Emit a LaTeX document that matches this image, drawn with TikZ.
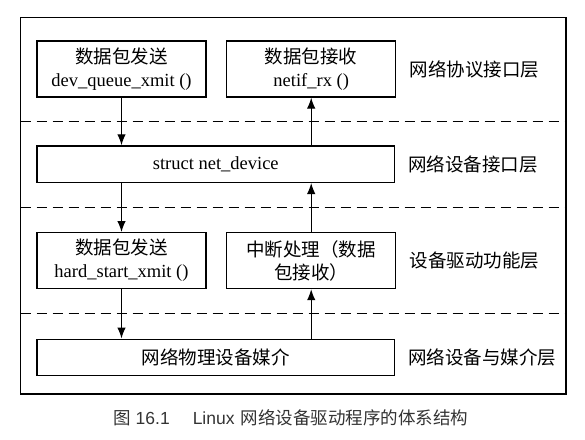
\documentclass[tikz,border=0pt]{standalone}
\usepackage{fontspec}
\setmainfont{Liberation Serif}
\newfontfamily\cjk{Noto Sans CJK SC}
\newfontfamily\capsans{Liberation Sans}
\usetikzlibrary{
        arrows.meta,
        calc,
        positioning
    }
\newcommand\boxfont{\fontsize{18.5}{23}\selectfont}
\tikzset{>={Latex[length=11pt,width=8.5pt]},node distance=2cm}
\tikzset{
    box/.style={draw,line width=1.2pt,minimum width=169pt,minimum height=56pt,
        inner sep=0pt,align=center,font=\boxfont},
    widebox/.style={box,minimum width=357.5pt,minimum height=36.5pt},
    layer/.style={inner sep=0pt,font=\boxfont\cjk},
    sep/.style={line width=1.2pt,dash pattern=on 10pt off 6pt},
    flow/.style={->,line width=1.2pt}
}

\begin{document}
\begin{tikzpicture}[x=1pt,y=-1pt]
    \useasboundingbox (0,0) rectangle (585,439);
    \coordinate (fnw) at (20.5,17.5);
    \coordinate (fse) at (566,394);
    \draw[line width=1.2pt] (fnw) rectangle (fse);

    \node[box] (sendq) at (121.5,69) {{\cjk 数据包发送}\\dev\_queue\_xmit ()};
    \node[box] (recv) [right=19.5pt of sendq] {{\cjk 数据包接收}\\netif\_rx ()};
    \node[widebox] (netdev) [below=47.7pt of sendq.south west,anchor=north west] {struct net\_device};
    \node[box] (sendh) [below=49pt of netdev.south west,anchor=north west] {{\cjk 数据包发送}\\hard\_start\_xmit ()};
    \node[box] (irq) [right=19.5pt of sendh] {{\cjk 中断处理（数据}\\{\cjk 包接收）}};
    \node[widebox] (media) [below=49.3pt of sendh.south west,anchor=north west] {\cjk 网络物理设备媒介};

    \node[layer] (proto) [right=13pt of recv] {网络协议接口层};
    \node[layer] (devif) [right=13pt of netdev] {网络设备接口层};
    \node[layer] (drv) [right=13pt of irq] {设备驱动功能层};
    \node[layer] (phy) [right=13pt of media] {网络设备与媒介层};

    \foreach \a/\b in {sendq/netdev,netdev/sendh,sendh/media} {
        \coordinate (\a-gap) at ($(\a.south)!.5!(\b.north)$);
        \draw[sep] (fnw |- \a-gap) -- (fse |- \a-gap);
    }

    \draw[flow] (sendq.south) -- (sendq.south |- netdev.north);
    \draw[flow] (netdev.south -| sendh) -- (sendh.north);
    \draw[flow] (sendh.south) -- (sendh.south |- media.north);
    \draw[flow] (media.north -| irq) -- (irq.south);
    \draw[flow] (irq.north) -- (irq.north |- netdev.south);
    \draw[flow] (netdev.north -| recv) -- (recv.south);

    \node[anchor=west,inner sep=0pt,text=black!80,font=\fontsize{17.5}{20}\selectfont] (caption) at (113,418)
        {{\cjk 图}\hspace{5pt}{\capsans 16.1}\hspace{23pt}{\capsans Linux}\hspace{6pt}{\cjk 网络设备驱动程序的体系结构}};
\end{tikzpicture}
\end{document}
